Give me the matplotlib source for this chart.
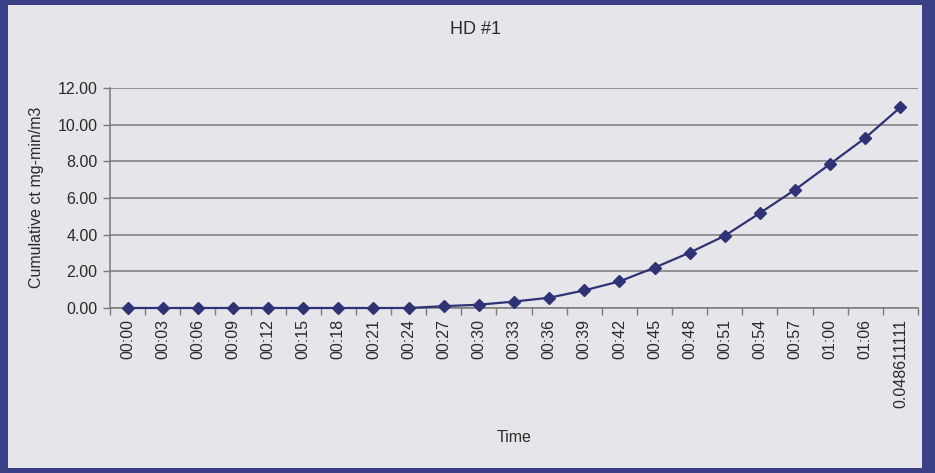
import matplotlib
matplotlib.use("Agg")
import matplotlib.pyplot as plt
from matplotlib.patches import Rectangle
from matplotlib.ticker import FixedLocator, NullFormatter

categories = ["00:00", "00:03", "00:06", "00:09", "00:12", "00:15", "00:18", "00:21",
              "00:24", "00:27", "00:30", "00:33", "00:36", "00:39", "00:42", "00:45",
              "00:48", "00:51", "00:54", "00:57", "01:00", "01:06", "0.048611111"]
values = [0.0, 0.0, 0.0, 0.0, 0.0, 0.0, 0.0, 0.0,
          0.0, 0.1, 0.18, 0.35, 0.56, 0.96, 1.45, 2.2,
          3.02, 3.94, 5.18, 6.45, 7.86, 9.28, 10.95]
y_ticks = [0, 2, 4, 6, 8, 10, 12]
title = "HD #1"
x_label = "Time"
y_label = "Cumulative ct mg-min/m3"

plt.rcParams['font.family'] = ['Liberation Sans', 'DejaVu Sans']

W, H = 935, 473
fig = plt.figure(figsize=(W / 100, H / 100), dpi=100)
fig.patch.set_facecolor("#3b3f86")
fig.patches.append(Rectangle((8 / W, 5 / H), (922 - 8) / W, (468 - 5) / H,
                             transform=fig.transFigure, facecolor="#e6e6ea",
                             edgecolor="none", zorder=-10))

ax = fig.add_axes([110 / W, (H - 308) / H, (918 - 110) / W, (308 - 88) / H])
ax.set_facecolor("none")
ax.set_zorder(2)

x = list(range(len(categories)))
ax.plot(x, values, color="#2f3275", linewidth=1.6, marker="D", markersize=6.5,
        markerfacecolor="#2f3275", markeredgecolor="#2f3275", zorder=5, clip_on=False)

txt = "#2a2a2a"
ax.set_xlim(-0.5, len(categories) - 0.5)
ax.set_ylim(0, 12)
ax.set_yticks(y_ticks)
ax.set_yticklabels([f"{v:.2f}" for v in y_ticks], fontsize=11.5, color=txt)
ax.yaxis.grid(True, color="#7a7a7a", linewidth=1.1)
ax.set_axisbelow(True)

ax.set_xticks(x)
ax.set_xticklabels(categories, rotation=90, fontsize=11.5, color=txt)
ax.tick_params(axis="x", which="major", length=0, pad=8)
ax.xaxis.set_minor_locator(FixedLocator([i - 0.5 for i in range(len(categories) + 1)]))
ax.xaxis.set_minor_formatter(NullFormatter())
ax.tick_params(axis="x", which="minor", length=5, color="#7a7a7a", width=1.0)
ax.tick_params(axis="y", length=5, color="#7a7a7a", width=1.0, pad=4)

for s in ["top", "right"]:
    ax.spines[s].set_visible(False)
for s in ["left", "bottom"]:
    ax.spines[s].set_color("#7a7a7a")
    ax.spines[s].set_linewidth(1.1)

fig.text(476 / W, 1 - 30 / H, title, ha="center", va="center", fontsize=13, color=txt)
fig.text(514 / W, 1 - 437 / H, x_label, ha="center", va="center", fontsize=11.5, color=txt)
fig.text(37 / W, 1 - 197 / H, y_label, ha="center", va="center", rotation=90,
         fontsize=11.5, color=txt)

fig.savefig("out.png", dpi=100, facecolor=fig.get_facecolor())
